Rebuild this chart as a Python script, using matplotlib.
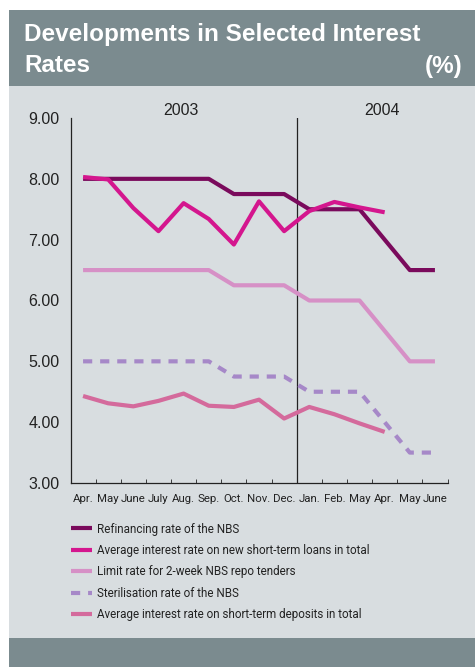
import matplotlib.pyplot as plt
from matplotlib.patches import Rectangle

months = ["Apr.", "May", "June", "July", "Aug.", "Sep.", "Oct.", "Nov.", "Dec.",
          "Jan.", "Feb.", "May", "Apr.", "May", "June"]
years = ["2003", "2004"]

refinancing = [8.0, 8.0, 8.0, 8.0, 8.0, 8.0, 7.75, 7.75, 7.75, 7.5, 7.5, 7.5, 7.0, 6.5, 6.5]
loans = [8.03, 7.99, 7.52, 7.14, 7.6, 7.34, 6.92, 7.63, 7.14, 7.47, 7.62, 7.53, 7.45]
limit_rate = [6.5, 6.5, 6.5, 6.5, 6.5, 6.5, 6.25, 6.25, 6.25, 6.0, 6.0, 6.0, 5.5, 5.0, 5.0]
sterilisation = [5.0, 5.0, 5.0, 5.0, 5.0, 5.0, 4.75, 4.75, 4.75, 4.5, 4.5, 4.5, 4.0, 3.5, 3.5]
deposits = [4.43, 4.31, 4.26, 4.35, 4.47, 4.27, 4.25, 4.37, 4.06, 4.25, 4.13, 3.98, 3.84]

labels = ["Refinancing rate of the NBS",
          "Average interest rate on new short-term loans in total",
          "Limit rate for 2-week NBS repo tenders",
          "Sterilisation rate of the NBS",
          "Average interest rate on short-term deposits in total"]
colors = ["#7a0a5c", "#d4168e", "#d690c6", "#a688c8", "#d46a9c"]

narrow = ['Roboto', 'DejaVu Sans']
plt.rcParams['font.family'] = narrow

W, H = 475, 667
fig = plt.figure(figsize=(W / 100, H / 100), dpi=100)
fig.patch.set_facecolor("white")

# panel background and title band
fig.patches.append(Rectangle((9 / W, 0), 1 - 9 / W, 1 - 86 / H, transform=fig.transFigure,
                             facecolor="#d8dde0", edgecolor="none", zorder=-2))
fig.patches.append(Rectangle((9 / W, 1 - 86 / H), 1 - 9 / W, 76 / H, transform=fig.transFigure,
                             facecolor="#7b8b8f", edgecolor="none", zorder=-1))
fig.patches.append(Rectangle((9 / W, 0), 1 - 9 / W, 29 / H, transform=fig.transFigure,
                             facecolor="#7b8b8f", edgecolor="none", zorder=-1))

title_font = dict(color="white", fontsize=17.5, fontweight="bold",
                  family=['Liberation Sans', 'DejaVu Sans'])
fig.text(24 / W, 1 - 34 / H, "Developments in Selected Interest", va="center", ha="left", **title_font)
fig.text(24 / W, 1 - 66 / H, "Rates", va="center", ha="left", **title_font)
fig.text(462 / W, 1 - 66 / H, "(%)", va="center", ha="right", **title_font)

ax = fig.add_axes([70.5 / W, 1 - 483 / H, 377 / W, 365 / H])
ax.set_facecolor("none")
x = list(range(len(months)))

ax.plot(x, refinancing, color=colors[0], lw=3, solid_capstyle="butt", label=labels[0], zorder=3)
ax.plot(x[:len(loans)], loans, color=colors[1], lw=3, solid_capstyle="butt", label=labels[1], zorder=4)
ax.plot(x, limit_rate, color=colors[2], lw=3, solid_capstyle="butt", label=labels[2], zorder=3)
ax.plot(x, sterilisation, color=colors[3], lw=3, dashes=(2.2, 1.9), label=labels[3], zorder=3)
ax.plot(x[:len(deposits)], deposits, color=colors[4], lw=3, solid_capstyle="butt", label=labels[4], zorder=3)

ax.axvline(8.5, color="#222222", lw=0.9, zorder=2)

ax.set_xlim(-0.5, len(months) - 0.5)
ax.set_ylim(3.0, 9.0)
ax.set_yticks([3, 4, 5, 6, 7, 8, 9])
ax.set_yticklabels([f"{v:.2f}" for v in [3, 4, 5, 6, 7, 8, 9]], fontsize=11.5,
                   family=['Liberation Sans', 'DejaVu Sans'], color="#222222")
ax.tick_params(axis="y", length=0, pad=8)
ax.set_xticks(x)
ax.set_xticklabels(months, fontsize=8.2, color="#222222")
ax.set_xticks([i - 0.5 for i in range(len(months) + 1)], minor=True)
ax.tick_params(axis="x", which="major", length=0, pad=8)
ax.tick_params(axis="x", which="minor", direction="in", length=3, color="#222222")
for s in ["top", "right"]:
    ax.spines[s].set_visible(False)
for s in ["left", "bottom"]:
    ax.spines[s].set_color("#222222")
    ax.spines[s].set_linewidth(0.9)

ax.text(3.9, 9.0, years[0], ha="center", va="bottom", fontsize=11.5,
        family=['Liberation Sans', 'DejaVu Sans'], color="#222222")
ax.text(11.9, 9.0, years[1], ha="center", va="bottom", fontsize=11.5,
        family=['Liberation Sans', 'DejaVu Sans'], color="#222222")

leg = fig.legend(loc="upper left", bbox_to_anchor=(60 / W, 1 - 512 / H), frameon=False,
                 fontsize=8.4, handlelength=1.8, handletextpad=0.5, labelspacing=0.72)
for t in leg.get_texts():
    t.set_color("#222222")

fig.savefig("out.png", dpi=100, facecolor=fig.get_facecolor())
